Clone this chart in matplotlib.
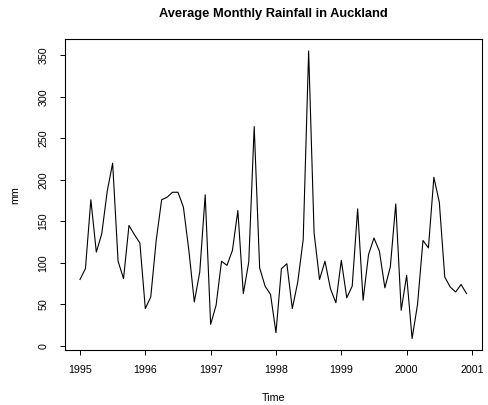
import matplotlib
matplotlib.use('Agg')
import matplotlib.pyplot as plt
import numpy as np

# monthly rainfall (mm), Jan 1995 - Dec 2000
rain = [80, 93, 176, 113, 135, 186, 220, 102, 81, 145, 134, 124,
        45, 59, 127, 176, 179, 185, 185, 167, 115, 53, 89, 182,
        26, 49, 102, 97, 115, 163, 63, 101, 264, 94, 72, 62,
        16, 93, 99, 45, 77, 128, 355, 136, 80, 102, 69, 52,
        103, 58, 72, 165, 55, 110, 130, 114, 70, 95, 171, 43,
        85, 9, 50, 127, 118, 203, 173, 83, 71, 65, 74, 63]
start_year = 1995
year_ticks = [1995, 1996, 1997, 1998, 1999, 2000, 2001]
rain_ticks = [0, 50, 100, 150, 200, 250, 300, 350]

plt.rcParams['font.family'] = ['Liberation Sans', 'DejaVu Sans']

t = start_year + np.arange(len(rain)) / 12.0

fig = plt.figure(figsize=(4.88, 4.05), dpi=100)
ax = fig.add_axes([0.1322, 0.1358, 0.8555, 0.7667])
ax.plot(t, rain, color='black', linewidth=0.8)

# R style 4% padding
xr = t[-1] - t[0]
ax.set_xlim(t[0] - 0.04 * xr, t[-1] + 0.04 * xr)
yr = max(rain) - min(rain)
ax.set_ylim(min(rain) - 0.04 * yr, max(rain) + 0.04 * yr)

ax.set_xticks(year_ticks)
ax.set_yticks(rain_ticks)
ax.set_yticklabels([str(v) for v in rain_ticks], rotation=90, va='center')
ax.tick_params(axis='both', labelsize=7.7, length=3.6, width=0.7, direction='out')
ax.tick_params(axis='x', pad=7)
ax.tick_params(axis='y', pad=8)
for s in ax.spines.values():
    s.set_linewidth(0.8)

ax.set_xlabel('Time', fontsize=7.7)
ax.xaxis.set_label_coords(0.5, -0.139)
ax.set_ylabel('mm', fontsize=7.7)
ax.yaxis.set_label_coords(-0.105, 0.5)

# R centres the main title over the plot region
fig.text(0.1322 + 0.8555 / 2, 1 - 14 / 405.0, 'Average Monthly Rainfall in Auckland',
         ha='center', va='center', fontsize=9.25, fontweight='bold')

plt.savefig('out.png', dpi=100)
plt.close(fig)
